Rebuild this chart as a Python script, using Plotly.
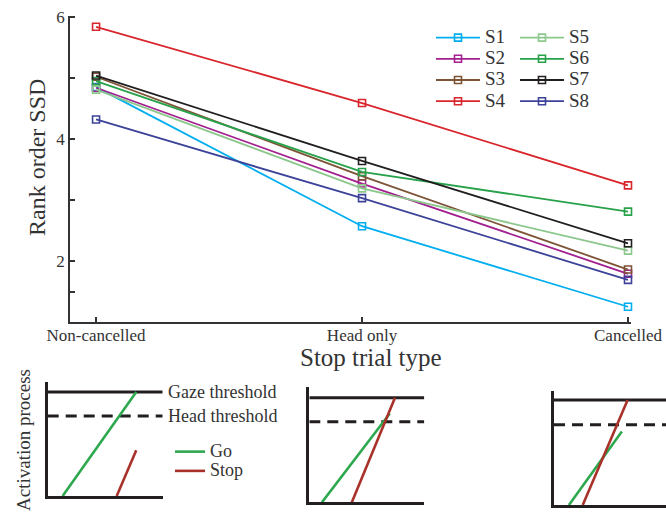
import plotly.graph_objects as go

# ---------------- data ----------------
categories = ["Non-cancelled", "Head only", "Cancelled"]
subjects = ["S1", "S2", "S3", "S4", "S5", "S6", "S7", "S8"]
S1 = [4.85, 2.57, 1.25]
S2 = [4.84, 3.27, 1.79]
S3 = [5.02, 3.39, 1.86]
S4 = [5.84, 4.59, 3.24]
S5 = [4.81, 3.19, 2.17]
S6 = [4.95, 3.46, 2.81]
S7 = [5.04, 3.64, 2.29]
S8 = [4.32, 3.03, 1.69]
series = [S1, S2, S3, S4, S5, S6, S7, S8]
colors = ["#00AEEF", "#A2208F", "#7D5436", "#D9262C",
          "#8CC78C", "#27A24A", "#231F20", "#3C4398"]
y_tickvals = [1.5, 2, 3, 4, 5, 6]
y_ticktext = ["", "2", "", "4", "", "6"]

# schematic panels (activation units: bottom = 0, gaze threshold = 1)
gaze_level = [1.0, 1.0, 1.0]
head_level = [0.77, 0.77, 0.765]
go_x = [[0.13, 0.77], [0.11, 0.70], [0.13, 0.59]]
go_y = [[0.0, 1.0], [0.0, 0.85], [0.0, 0.70]]
stop_x = [[0.60, 0.77], [0.37, 0.745], [0.25, 0.64]]
stop_y = [[0.0, 0.44], [0.0, 1.0], [0.0, 1.0]]

W, H = 666, 516
SERIF = "Liberation Serif"
TXT = "#333333"

fig = go.Figure()

# ---------------- main chart ----------------
for i, (name, vals, col) in enumerate(zip(subjects, series, colors)):
    fig.add_trace(go.Scatter(
        x=categories, y=vals, name="<span style='font-size:19px'>%s</span>" % name,
        mode="lines+markers",
        line=dict(color=col, width=1.8),
        marker=dict(symbol="square-open", size=7, color=col, line=dict(width=1.6, color=col)),
        cliponaxis=False,
        legend="legend" if i < 4 else "legend2",
        xaxis="x", yaxis="y",
    ))

# ---------------- schematic panels ----------------
GO_C = "#2EA84E"
STOP_C = "#A8322A"
for p in range(3):
    ax = str(p + 2)
    xa, ya = "x" + ax, "y" + ax
    fig.add_trace(go.Scatter(x=[0, 1], y=[gaze_level[p]] * 2, mode="lines",
                             line=dict(color="#231F20", width=3),
                             showlegend=False, xaxis=xa, yaxis=ya))
    fig.add_trace(go.Scatter(x=[0, 1], y=[head_level[p]] * 2, mode="lines",
                             line=dict(color="#231F20", width=3, dash="11px,7px"),
                             showlegend=False, xaxis=xa, yaxis=ya))
    fig.add_trace(go.Scatter(x=go_x[p], y=go_y[p], mode="lines",
                             line=dict(color=GO_C, width=2.6),
                             name="<span style='font-size:18px'>Go</span>",
                             showlegend=(p == 0), legend="legend3",
                             xaxis=xa, yaxis=ya))
    fig.add_trace(go.Scatter(x=stop_x[p], y=stop_y[p], mode="lines",
                             line=dict(color=STOP_C, width=2.6),
                             name="<span style='font-size:18px'>Stop</span>",
                             showlegend=(p == 0), legend="legend3",
                             xaxis=xa, yaxis=ya))

def px_x(v):
    return v / W

def px_y(v):
    return 1 - v / H

axis_font = dict(family=SERIF, size=17, color=TXT)

layout = dict(
    width=W, height=H,
    margin=dict(l=0, r=0, t=0, b=0, autoexpand=False),
    paper_bgcolor="white", plot_bgcolor="white",
    font=dict(family=SERIF, color=TXT),
    xaxis=dict(
        type="category", categoryorder="array", categoryarray=categories,
        domain=[px_x(70), px_x(630.66)], range=[-0.098, 2.01], automargin=False,
        showline=True, linecolor="#333333", linewidth=1.5,
        ticks="inside", ticklen=5, tickwidth=1.5, tickcolor="#333333",
        ticklabelstandoff=-3,
        showgrid=False, zeroline=False, tickfont=axis_font, anchor="y",
    ),
    yaxis=dict(
        domain=[px_y(322), px_y(15.78)], range=[1, 6.02], automargin=False,
        tickmode="array", tickvals=y_tickvals, ticktext=y_ticktext,
        showline=True, linecolor="#333333", linewidth=1.5,
        ticks="inside", ticklen=5, tickwidth=1.5, tickcolor="#333333",
        showgrid=False, zeroline=False, tickfont=axis_font, anchor="x",
    ),
    legend=dict(x=px_x(431), y=px_y(22), xanchor="left", yanchor="top",
                font=dict(family=SERIF, size=14, color=TXT),
                bgcolor="rgba(0,0,0,0)", itemwidth=44, tracegroupgap=0),
    legend2=dict(x=px_x(515), y=px_y(22), xanchor="left", yanchor="top",
                 font=dict(family=SERIF, size=14, color=TXT),
                 bgcolor="rgba(0,0,0,0)", itemwidth=44, tracegroupgap=0),
    legend3=dict(x=px_x(170), y=px_y(437), xanchor="left", yanchor="top",
                 font=dict(family=SERIF, size=12.5, color=TXT),
                 bgcolor="rgba(0,0,0,0)", itemwidth=30, tracegroupgap=0),
)

panels = [
    # x-domain px (left, right), y-domain px (bottom, top), x range max, y range max
    ((47.7, 162.7), (496, 381.7), 1.0, 1.099),
    ((309.3, 424.3), (502.3, 387.3), 1.0, 1.10),
    ((554, 666), (505, 390.7), 112 / 115, 1.089),
]
for p, ((xl, xr), (yb, yt), xmax, ymax) in enumerate(panels):
    ax = str(p + 2)
    layout["xaxis" + ax] = dict(
        domain=[px_x(xl), min(1.0, px_x(xr))], range=[0, xmax], automargin=False,
        showline=True, linecolor="#231F20", linewidth=3,
        showticklabels=False, ticks="", showgrid=False, zeroline=False,
        anchor="y" + ax, fixedrange=True,
    )
    layout["yaxis" + ax] = dict(
        domain=[px_y(yb), px_y(yt)], range=[0, ymax], automargin=False,
        showline=True, linecolor="#231F20", linewidth=3,
        showticklabels=False, ticks="", showgrid=False, zeroline=False,
        anchor="x" + ax, fixedrange=True,
    )

fig.update_layout(**layout)

# titles and labels
ann = [
    dict(text="Rank order SSD", x=px_x(37), y=px_y(158), textangle=-90,
         font=dict(family=SERIF, size=24, color=TXT)),
    dict(text="Stop trial type", x=px_x(371), y=px_y(357),
         font=dict(family=SERIF, size=25, color=TXT)),
    dict(text="Activation process", x=px_x(23), y=px_y(440), textangle=-90,
         font=dict(family=SERIF, size=19, color=TXT)),
]
for a in ann:
    a.update(xref="paper", yref="paper", showarrow=False, xanchor="center", yanchor="middle")
    fig.add_annotation(**a)

# threshold labels attached to panel 1's threshold levels
fig.add_annotation(text="Gaze threshold", xref="paper", yref="y2", x=px_x(166), y=gaze_level[0],
                   xanchor="left", yanchor="middle", showarrow=False,
                   font=dict(family=SERIF, size=18, color=TXT))
fig.add_annotation(text="Head threshold", xref="paper", yref="y2", x=px_x(166), y=head_level[0],
                   xanchor="left", yanchor="middle", showarrow=False,
                   font=dict(family=SERIF, size=18, color=TXT))

# place the figure at the page's top-left corner (no default body margin)
fig.write_html(
    "out.html",
    config={"displayModeBar": False},
    post_script="document.body.style.margin='0';document.body.style.overflow='hidden';",
)
